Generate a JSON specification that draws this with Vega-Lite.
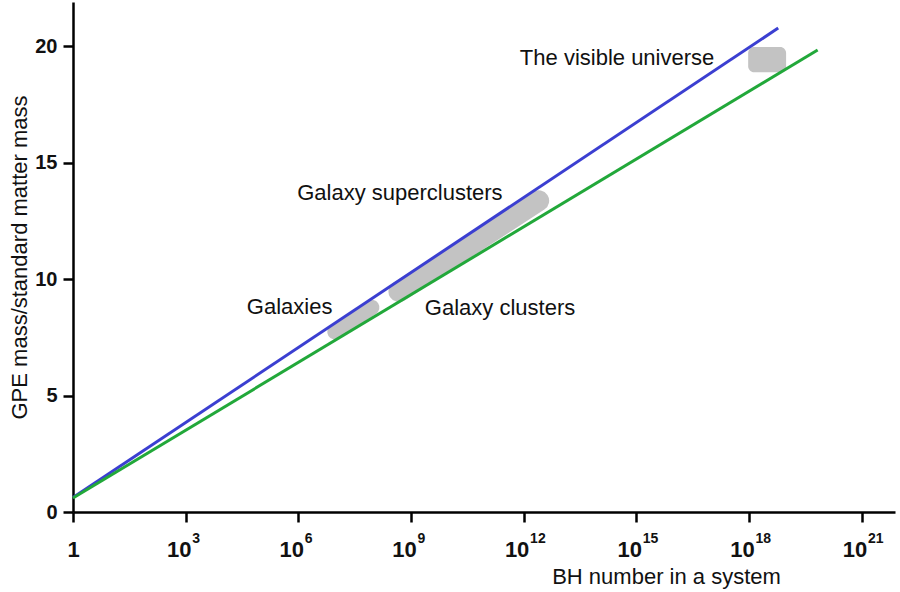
{
  "$schema": "https://vega.github.io/schema/vega-lite/v6.json",
  "width": 822,
  "height": 510,
  "autosize": "none",
  "padding": {"left": 73, "top": 2, "right": 5, "bottom": 80},
  "background": "white",
  "config": {"view": {"stroke": null}, "font": "Liberation Sans"},
  "datasets": {
    "lines": [
      {"series": "blue", "exp": 0, "ratio": 0.62},
      {"series": "blue", "exp": 18.78, "ratio": 20.77},
      {"series": "green", "exp": 0, "ratio": 0.6},
      {"series": "green", "exp": 19.83, "ratio": 19.83}
    ],
    "blobs": [
      {"group": "Galaxies", "exp": 6.97, "ratio": 7.73},
      {"group": "Galaxies", "exp": 7.96, "ratio": 8.78},
      {"group": "Clusters", "exp": 8.68, "ratio": 9.46},
      {"group": "Clusters", "exp": 12.4, "ratio": 13.36}
    ],
    "universe": [
      {"exp": 17.98, "exp2": 18.99, "ratio": 18.88, "ratio2": 19.96}
    ],
    "labels": [
      {"text": "The visible universe", "exp": 11.9, "ratio": 19.48},
      {"text": "Galaxy superclusters", "exp": 5.97, "ratio": 13.69},
      {"text": "Galaxies", "exp": 4.63, "ratio": 8.8},
      {"text": "Galaxy clusters", "exp": 9.37, "ratio": 8.76}
    ]
  },
  "resolve": {"axis": {"x": "independent"}},
  "encoding": {
    "y": {
      "field": "ratio",
      "type": "quantitative",
      "scale": {"domain": [0, 21.89], "nice": false, "zero": false},
      "axis": {
        "values": [0, 5, 10, 15, 20],
        "grid": false,
        "title": "GPE mass/standard matter mass",
        "titleFontSize": 22,
        "titleFontWeight": "normal",
        "titleColor": "#111111",
        "titlePadding": 3,
        "labelFontSize": 20,
        "labelFontWeight": "bold",
        "labelColor": "#111111",
        "labelPadding": 6,
        "labelFlush": false,
        "tickSize": 10,
        "tickWidth": 2.5,
        "tickColor": "#000000",
        "domainColor": "#000000",
        "domainWidth": 2.5
      }
    }
  },
  "layer": [
    {
      "data": {"name": "blobs"},
      "transform": [{"filter": "datum.group == 'Galaxies'"}],
      "mark": {"type": "line", "color": "#c3c3c3", "strokeWidth": 15, "strokeCap": "round"},
      "encoding": {
        "x": {
          "field": "exp",
          "type": "quantitative",
          "scale": {"domain": [0, 21.89], "nice": false, "zero": false},
          "axis": {
            "orient": "bottom",
            "values": [0, 3, 6, 9, 12, 15, 18, 21],
            "grid": false,
            "title": "BH number in a system",
            "titleFontSize": 22,
            "titleFontWeight": "normal",
            "titleColor": "#111111",
            "titleX": 593,
            "titleY": 71,
            "titleAlign": "center",
            "titleBaseline": "alphabetic",
            "labelExpr": "datum.value == 0 ? '1' : '10'",
            "labelFontSize": 22,
            "labelFontWeight": "bold",
            "labelColor": "#111111",
            "labelPadding": 17,
            "labelOffset": {"condition": {"test": "datum.value == 0", "value": 0}, "value": -7},
            "labelFlush": false,
            "labelOverlap": false,
            "tickSize": 10,
            "tickWidth": 2.5,
            "tickColor": "#000000",
            "domainColor": "#000000",
            "domainWidth": 2.5
          }
        },
        "detail": {"field": "group"}
      }
    },
    {
      "data": {"name": "blobs"},
      "transform": [{"filter": "datum.group == 'Clusters'"}],
      "mark": {"type": "line", "color": "#c3c3c3", "strokeWidth": 21, "strokeCap": "round"},
      "encoding": {
        "x": {"field": "exp", "type": "quantitative", "axis": null},
        "detail": {"field": "group"}
      }
    },
    {
      "data": {"name": "universe"},
      "mark": {"type": "rect", "color": "#c3c3c3", "cornerRadius": 6},
      "encoding": {
        "x": {"field": "exp", "type": "quantitative", "axis": null},
        "x2": {"field": "exp2"},
        "y2": {"field": "ratio2"}
      }
    },
    {
      "data": {"name": "lines"},
      "mark": {"type": "line", "strokeWidth": 3},
      "encoding": {
        "x": {"field": "exp", "type": "quantitative", "axis": null},
        "color": {
          "field": "series",
          "type": "nominal",
          "scale": {"domain": ["blue", "green"], "range": ["#3b3fd1", "#22a83a"]},
          "legend": null
        }
      }
    },
    {
      "data": {"name": "labels"},
      "mark": {"type": "text", "align": "left", "baseline": "middle", "fontSize": 22, "color": "#111111"},
      "encoding": {
        "x": {
          "field": "exp",
          "type": "quantitative",
          "axis": {
            "orient": "bottom",
            "values": [3, 6, 9, 12, 15, 18, 21],
            "grid": false,
            "domain": false,
            "ticks": false,
            "tickSize": 0,
            "title": null,
            "format": "d",
            "labelAlign": "left",
            "labelBaseline": "top",
            "labelOffset": 6,
            "labelPadding": 19,
            "labelFontSize": 14,
            "labelFontWeight": "bold",
            "labelColor": "#111111",
            "labelFlush": false,
            "labelOverlap": false
          }
        },
        "text": {"field": "text"}
      }
    }
  ]
}
